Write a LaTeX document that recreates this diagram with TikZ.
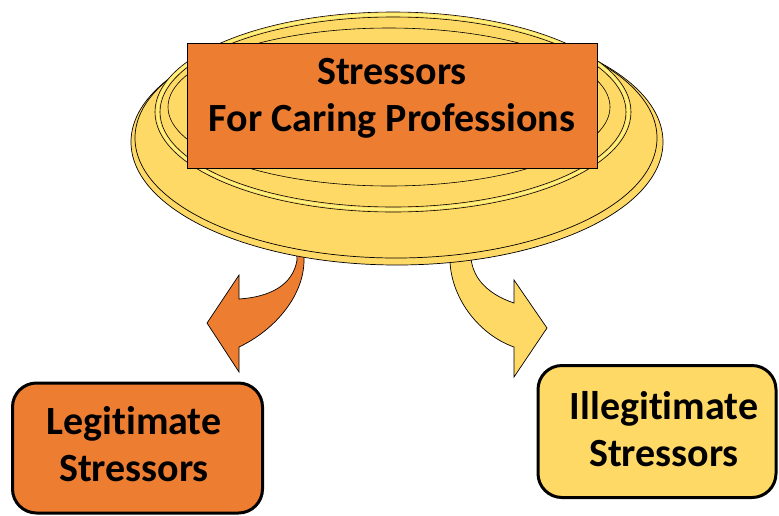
\documentclass[tikz,border=0pt]{standalone}
\usepackage{fontspec}
\setmainfont{Carlito}[Ligatures={NoCommon}]
\definecolor{orng}{HTML}{ED7D31}
\definecolor{gold}{HTML}{FFD966}
\definecolor{rimyel}{HTML}{FFF27A}
\begin{document}
\begin{tikzpicture}[x=1pt,y=-1pt,
  plate/.style={fill=gold,draw=black,line width=0.7pt},
  arrowshape/.style={draw=black,line width=0.7pt},
  lbl/.style={font=\bfseries\fontsize{40}{47}\selectfont,align=center,text=black},
  box/.style={draw=black,line width=3pt,rounded corners=24pt}]
\useasboundingbox (0,0) rectangle (779,515);
\fill[white] (0,0) rectangle (779,515);
% arrows (behind plate)
\draw[arrowshape,fill=orng] (296,240) -- (297,260) .. controls (293,285) and (270,297) .. (239,299)
  -- (239,275) -- (207,323) -- (239,372) -- (239,347)
  .. controls (275,330) and (305,295) .. (304,258) -- (305,240);
\draw[arrowshape,fill=gold] (450,240) -- (450,262) .. controls (452,300) and (480,335) .. (514,347)
  -- (514,377) -- (547,328) -- (514,280) -- (514,303)
  .. controls (490,295) and (473,280) .. (471,258) -- (471,240);
% plate
\draw[plate] (397,142) ellipse [x radius=266,y radius=123];
\draw[plate] (396,138) ellipse [x radius=261,y radius=120];
\draw[fill=gold,draw=black,line width=0.6pt] (393,112) ellipse [x radius=238,y radius=100];
\draw[rimyel,line width=2.2pt] (393,112) ellipse [x radius=235.5,y radius=97.5];
\draw[black,line width=0.6pt] (393,112) ellipse [x radius=233,y radius=95];
\draw[black,line width=0.6pt] (389,107) ellipse [x radius=221,y radius=79];
% title box
\node[draw=black,line width=0.7pt,fill=orng,minimum width=410pt,minimum height=125pt,inner sep=0pt] (title) at (392,105.5) {};
\node[lbl] (titletext) at (392,98) {Stressors\\For Caring Professions};
% bottom boxes
\node[box,fill=orng,minimum width=250pt,minimum height=130pt] (legit) at (137.5,448) {};
\node[lbl] (legittext) at (134,444) {Legitimate\\Stressors};
\node[box,fill=gold,minimum width=238pt,minimum height=132pt] (illegit) at (657,431.5) {};
\node[lbl] (illegittext) at (664,429) {Illegitimate\\Stressors};
\end{tikzpicture}
\end{document}
